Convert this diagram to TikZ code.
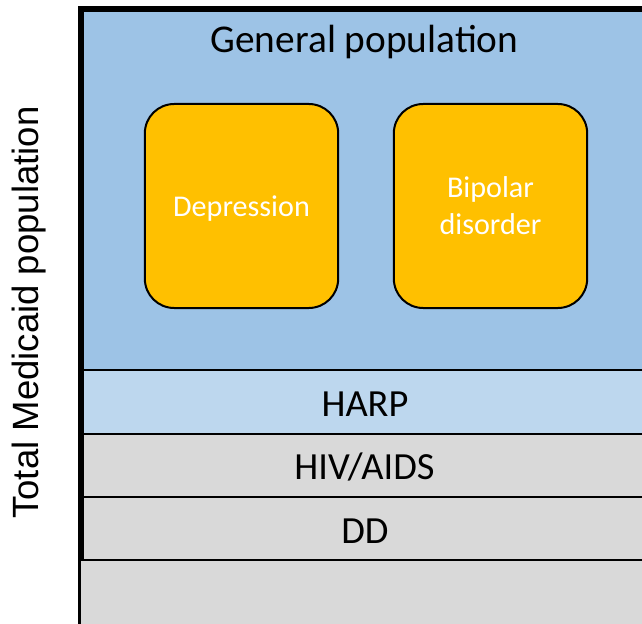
\documentclass[tikz,border=0pt]{standalone}
\usepackage{fontspec}
\setmainfont{Carlito}
\newfontfamily\arialfont{Liberation Sans}
\definecolor{genblue}{HTML}{9DC3E6}
\definecolor{harpblue}{HTML}{BDD7EE}
\definecolor{bandgray}{HTML}{D9D9D9}
\definecolor{condorange}{HTML}{FFC000}

\begin{document}
\begin{tikzpicture}[x=0.75pt,y=-0.75pt,
  band/.style={line width=2pt},
  condbox/.style={draw, line width=1.5pt, fill=condorange, rounded corners=22pt,
    minimum width=145pt, minimum height=153pt, text=white, align=center,
    font=\fontsize{22.6}{27.75}\selectfont},
  bandlabel/.style={anchor=base, font=\fontsize{28.8}{34}\selectfont}]

\useasboundingbox (0,0) rectangle (642,624);
\clip (0,0) rectangle (642,624);

% general population area
\fill[genblue] (81,9) rectangle (660,370);

% lower bands
\draw[band, fill=harpblue] (81,370) rectangle (660,434);
\draw[band, fill=bandgray] (81,434) rectangle (660,497);
\draw[band, fill=bandgray] (81,497) rectangle (660,560);
\draw[line width=0.75pt, fill=bandgray] (79,560) rectangle (660,640);

% thick frame on the left and top
\draw[line width=4.5pt, line join=miter] (81,560) |- (660,9);
\draw[line width=2pt] (79.5,560) -- (79.5,640);

% labels
\node[bandlabel, font=\fontsize{29.5}{34}\selectfont] (general) at (364.5,53) {General population};
\node[bandlabel] (harp) at (365,416) {HARP};
\node[bandlabel] (hiv) at (364.5,479) {HIV/AIDS};
\node[bandlabel] (dd) at (365,543) {DD};

% condition boxes
\node[condbox, text depth=0pt] (depression) at (241.5,206) {Depression};
\node[condbox] (bipolar) at (490.5,206) {Bipolar\\disorder};

% vertical axis label
\node[rotate=90, anchor=base, font=\arialfont\fontsize{27.4}{32}\selectfont]
  (total) at (38.5,312.5) {Total Medicaid population};

\end{tikzpicture}
\end{document}
